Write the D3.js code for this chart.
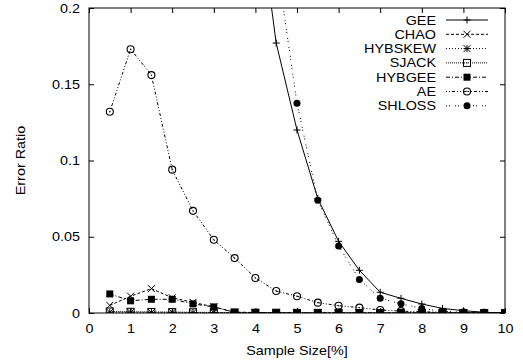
<!DOCTYPE html>
<html>
<head>
<meta charset="utf-8">
<script src="https://cdn.jsdelivr.net/npm/d3@7"></script>
<style>
  body { margin: 0; background: #fff; }
  text { font-family: "Liberation Sans", Arial, sans-serif; font-size: 12.5px; fill: #000; }
</style>
</head>
<body>
<svg id="chart" width="523" height="364" viewBox="0 0 523 364"></svg>
<script>
// sample sizes (%)
const sampleSizes = [0.5, 1, 1.5, 2, 2.5, 3, 3.5, 4, 4.5, 5, 5.5, 6, 6.5, 7, 7.5, 8, 8.5, 9, 9.5, 10];

const gee     = [3.0, 1.5, 1.0, 0.8, 0.6, 0.48, 0.37, 0.28, 0.177, 0.12, 0.075, 0.047, 0.028, 0.0136, 0.0096, 0.0059, 0.003, 0.0015, 0.0005, 0];
const chao    = [0.005, 0.011, 0.016, 0.010, 0.007, 0.004, 0.0005, 0.0003, 0.0002, 0.0001, 0, 0, 0, 0, 0, 0, 0, 0, 0, 0];
const hybskew = [0.0005, 0.0005, 0.0004, 0.0004, 0.0003, 0.0003, 0.0002, 0.0002, 0.0001, 0.0001, 0, 0, 0, 0, 0, 0, 0, 0, 0, 0];
const sjack   = [0.001, 0.0008, 0.0007, 0.0006, 0.0005, 0.0004, 0.0003, 0.0002, 0.0002, 0.0001, 0.0001, 0, 0, 0, 0, 0, 0, 0, 0, 0];
const hybgee  = [0.0125, 0.008, 0.009, 0.009, 0.006, 0.004, 0.0005, 0.0003, 0.0002, 0.0001, 0.0001, 0, 0, 0, 0, 0, 0, 0, 0, 0];
const ae      = [0.132, 0.173, 0.156, 0.094, 0.067, 0.048, 0.036, 0.023, 0.0144, 0.011, 0.0068, 0.0048, 0.0035, 0.002, 0.0012, 0.0008, 0.0005, 0.0003, 0.0001, 0];
const shloss  = [4.0, 2.0, 1.3, 1.0, 0.75, 0.55, 0.42, 0.32, 0.232, 0.1375, 0.074, 0.044, 0.022, 0.0096, 0.006, 0.003, 0.001, 0.0005, 0.0002, 0];

const xTicks = [0, 1, 2, 3, 4, 5, 6, 7, 8, 9, 10];
const yTicks = [0, 0.05, 0.1, 0.15, 0.2];

const seriesList = [
  { name: "GEE",     values: gee,     dash: null,          marker: "plus" },
  { name: "CHAO",    values: chao,    dash: "3,2",         marker: "cross" },
  { name: "HYBSKEW", values: hybskew, dash: "1,2",         marker: "star" },
  { name: "SJACK",   values: sjack,   dash: "1,1",         marker: "square" },
  { name: "HYBGEE",  values: hybgee,  dash: "4,2,1,2",     marker: "fsquare" },
  { name: "AE",      values: ae,      dash: "1,2,1,2,3,2", marker: "circle" },
  { name: "SHLOSS",  values: shloss,  dash: "1,2,1,5",     marker: "fcircle" }
];

const svg = d3.select("#chart");
const plotL = 89, plotR = 505, plotT = 8, plotB = 313;
const stretch = 1.15; // the original fonts are a bit wider than Liberation Sans

const x = d3.scaleLinear().domain([0, 10]).range([plotL, plotR]);
const y = d3.scaleLinear().domain([0, 0.2]).range([plotB, plotT]);

svg.append("defs").append("clipPath").attr("id", "plotClip")
  .append("rect")
  .attr("x", plotL).attr("y", plotT)
  .attr("width", plotR - plotL).attr("height", plotB - plotT);

// axes with inward ticks, mirrored on top/right
const fmtY = (d) => (d === 0 ? "0" : String(+d.toFixed(2)));

svg.append("g")
  .attr("transform", `translate(0,${plotB})`)
  .call(d3.axisBottom(x).tickValues(xTicks).tickSizeInner(-5).tickSizeOuter(0).tickPadding(11).tickFormat(d3.format("d")))
  .call((g) => g.select(".domain").remove())
  .call((g) => g.selectAll("text")
    .style("font-size", "12.5px").attr("fill", "#000")
    .attr("transform", `scale(${stretch},1)`));

svg.append("g")
  .attr("transform", `translate(0,${plotT})`)
  .call(d3.axisTop(x).tickValues(xTicks).tickSizeInner(-5).tickSizeOuter(0).tickFormat(""))
  .call((g) => g.select(".domain").remove());

svg.append("g")
  .attr("transform", `translate(${plotL},0)`)
  .call(d3.axisLeft(y).tickValues(yTicks).tickSizeInner(-5).tickSizeOuter(0).tickFormat(fmtY))
  .call((g) => g.select(".domain").remove())
  .call((g) => g.selectAll("text")
    .style("font-size", "12.5px").attr("fill", "#000")
    .attr("x", -9 / stretch)
    .attr("transform", `scale(${stretch},1)`));

svg.append("g")
  .attr("transform", `translate(${plotR},0)`)
  .call(d3.axisRight(y).tickValues(yTicks).tickSizeInner(-5).tickSizeOuter(0).tickFormat(""))
  .call((g) => g.select(".domain").remove());

svg.selectAll(".tick line").attr("stroke", "#000");

svg.append("rect")
  .attr("x", plotL).attr("y", plotT)
  .attr("width", plotR - plotL).attr("height", plotB - plotT)
  .attr("fill", "none").attr("stroke", "#000").attr("stroke-width", 1);

// axis titles
svg.append("text")
  .attr("transform", `translate(${(plotL + plotR) / 2},355) scale(${stretch},1)`)
  .attr("text-anchor", "middle")
  .text("Sample Size[%]");

svg.append("text")
  .attr("transform", `translate(25,${(plotT + plotB) / 2}) rotate(-90) scale(${stretch},1)`)
  .attr("text-anchor", "middle")
  .text("Error Ratio");

function drawMarker(g, type, cx, cy) {
  const s = 3.5;
  if (type === "plus") {
    g.append("path").attr("d", `M${cx - s},${cy}H${cx + s}M${cx},${cy - s}V${cy + s}`)
      .attr("stroke", "#000").attr("stroke-width", 1);
  } else if (type === "cross") {
    g.append("path").attr("d", `M${cx - s},${cy - s}L${cx + s},${cy + s}M${cx - s},${cy + s}L${cx + s},${cy - s}`)
      .attr("stroke", "#000").attr("stroke-width", 1);
  } else if (type === "star") {
    g.append("path").attr("d", `M${cx - s},${cy - s}L${cx + s},${cy + s}M${cx - s},${cy + s}L${cx + s},${cy - s}M${cx - s},${cy}H${cx + s}M${cx},${cy - s}V${cy + s}`)
      .attr("stroke", "#000").attr("stroke-width", 1);
  } else if (type === "square") {
    g.append("rect").attr("x", cx - s).attr("y", cy - s).attr("width", 2 * s).attr("height", 2 * s)
      .attr("fill", "none").attr("stroke", "#000").attr("stroke-width", 1);
    g.append("rect").attr("x", cx - 0.5).attr("y", cy - 0.5).attr("width", 1).attr("height", 1).attr("fill", "#000");
  } else if (type === "fsquare") {
    g.append("rect").attr("x", cx - s).attr("y", cy - s).attr("width", 2 * s).attr("height", 2 * s)
      .attr("fill", "#000");
  } else if (type === "circle") {
    g.append("circle").attr("cx", cx).attr("cy", cy).attr("r", s)
      .attr("fill", "none").attr("stroke", "#000").attr("stroke-width", 1.1);
    g.append("circle").attr("cx", cx).attr("cy", cy).attr("r", 0.7).attr("fill", "#000");
  } else if (type === "fcircle") {
    g.append("circle").attr("cx", cx).attr("cy", cy).attr("r", s).attr("fill", "#000");
  }
}

const line = d3.line().x((d) => x(d[0])).y((d) => y(d[1]));
const plot = svg.append("g").attr("clip-path", "url(#plotClip)");

// draw in reverse so GEE ends on top
seriesList.slice().reverse().forEach((s) => {
  const pts = sampleSizes.map((v, i) => [v, s.values[i]]);
  plot.append("path")
    .datum(pts)
    .attr("d", line)
    .attr("fill", "none")
    .attr("stroke", "#000")
    .attr("stroke-width", 1)
    .attr("stroke-dasharray", s.dash);
  const mg = plot.append("g");
  pts.filter((p) => p[1] <= 0.21).forEach((p) => drawMarker(mg, s.marker, x(p[0]), y(p[1])));
});

// legend
const legend = svg.append("g");
seriesList.forEach((s, i) => {
  const ly = 20 + i * 14.3;
  legend.append("text")
    .attr("transform", `translate(436,${ly + 4.5}) scale(${stretch},1)`)
    .attr("text-anchor", "end")
    .text(s.name);
  legend.append("line")
    .attr("x1", 446).attr("x2", 488).attr("y1", ly).attr("y2", ly)
    .attr("stroke", "#000").attr("stroke-width", 1)
    .attr("stroke-dasharray", s.dash);
  drawMarker(legend, s.marker, 467, ly);
});
</script>
</body>
</html>
